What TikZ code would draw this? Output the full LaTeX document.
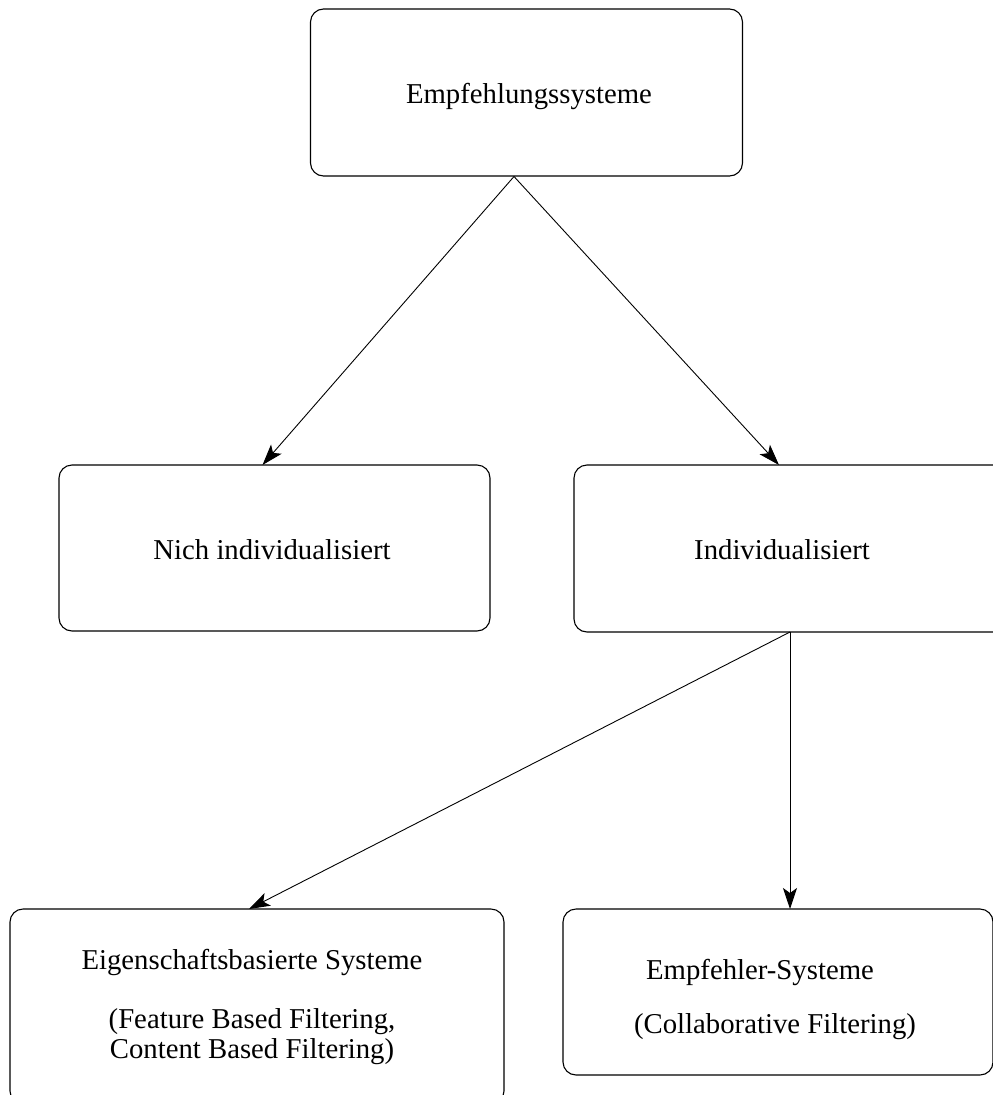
\documentclass[tikz,border=0pt]{standalone}
\usepackage{fontspec}
\setmainfont{Liberation Serif}
\usetikzlibrary{arrows.meta}
\begin{document}
\begin{tikzpicture}[x=1pt,y=-1pt,
  box/.style={draw,line width=1.1pt,rounded corners=13pt,inner sep=0pt},
  lbl/.style={inner sep=0pt,font=\fontsize{28.75}{34}\selectfont},
  conn/.style={line width=0.9pt,-{Stealth[length=21pt,width=14pt,inset=5pt]}}]
\useasboundingbox (0,0) rectangle (993,1095);
\clip (0,0) rectangle (993,1095);
% boxes
\node[box,minimum width=432pt,minimum height=167pt] (top) at (526.5,92.5) {};
\node[box,minimum width=431pt,minimum height=166pt] (nich) at (274.5,548) {};
\node[box,minimum width=436pt,minimum height=167pt] (ind) at (792,548.5) {};
\node[box,minimum width=494pt,minimum height=195pt] (eig) at (257,1006.5) {};
\node[box,minimum width=430pt,minimum height=166pt] (emp) at (778,992) {};
% texts
\node[lbl] (ttop) at (529,96) {Empfehlungssysteme};
\node[lbl] (tnich) at (272,550) {Nich individualisiert};
\node[lbl] (tind) at (782,550) {Individualisiert};
\node[lbl] (teig1) at (252,962) {Eigenschaftsbasierte Systeme};
\node[lbl] (teig2) at (252,1022) {(Feature Based Filtering,};
\node[lbl] (teig3) at (252,1052) {Content Based Filtering)};
\node[lbl] (temp1) at (760,972) {Empfehler-Systeme};
\node[lbl] (temp2) at (775,1027) {(Collaborative Filtering)};
% anchor points
\coordinate (a0) at (514,176.5);
\coordinate (a1) at (262.5,465);
\coordinate (a2) at (779,465);
\coordinate (b0) at (790,632);
\coordinate (b1) at (249,909);
\coordinate (b2) at (790,909);
\draw[conn] (a0) -- (a1);
\draw[conn] (a0) -- (a2);
\draw[conn] (b0) -- (b1);
\draw[conn] (b0) -- (b2);
\end{tikzpicture}
\end{document}
